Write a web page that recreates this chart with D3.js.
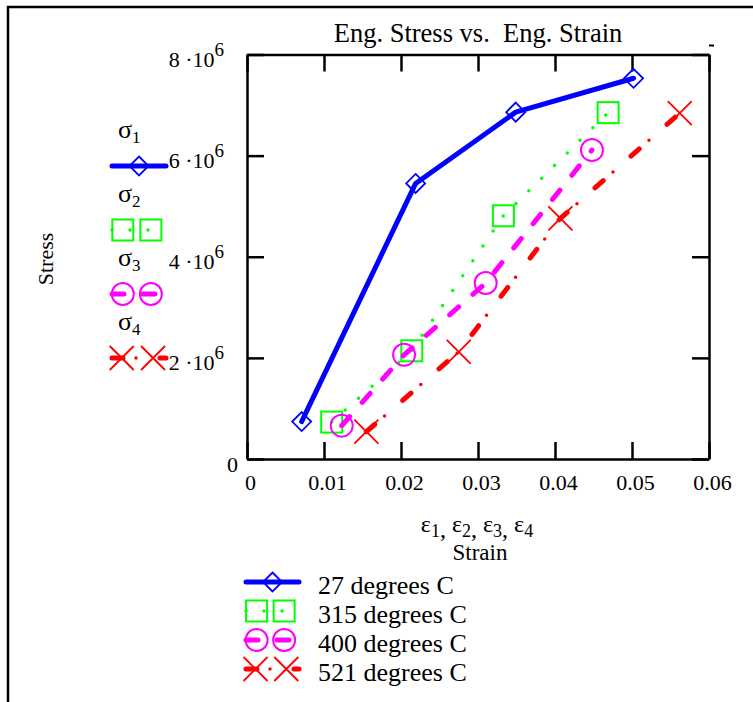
<!DOCTYPE html>
<html>
<head>
<meta charset="utf-8">
<script src="https://cdn.jsdelivr.net/npm/d3@7"></script>
<style>
  body { margin: 0; background: #fff; }
  svg text { font-family: "Liberation Serif", "Times New Roman", serif; fill: #000; }
</style>
</head>
<body>
<div id="chart"></div>
<script>
// values
const strain27 = [0.0071, 0.0219, 0.0349, 0.0502];
const stress27 = [0.74e6, 5.45e6, 6.86e6, 7.53e6];
const strain315 = [0.0110, 0.0214, 0.0333, 0.0469];
const stress315 = [0.73e6, 2.14e6, 4.81e6, 6.85e6];
const strain400 = [0.0123, 0.0204, 0.0310, 0.0448];
const stress400 = [0.66e6, 2.06e6, 3.48e6, 6.11e6];
const strain521 = [0.0155, 0.0275, 0.0407, 0.0562];
const stress521 = [0.54e6, 2.12e6, 4.76e6, 6.84e6];

const seriesNames = ["27 degrees C", "315 degrees C", "400 degrees C", "521 degrees C"];
const xTicks = [0, 0.01, 0.02, 0.03, 0.04, 0.05, 0.06];
const yTicks = [0, 2e6, 4e6, 6e6, 8e6];

const svgWidth = 753;
const svgHeight = 702;

const svg = d3.select("#chart")
  .append("svg")
  .attr("width", svgWidth)
  .attr("height", svgHeight);

svg.append("rect").attr("width", svgWidth).attr("height", svgHeight).attr("fill", "#fff");

// outer frame (top + left only)
svg.append("path")
  .attr("d", "M8,702 V7 H753")
  .attr("fill", "none")
  .attr("stroke", "#000")
  .attr("stroke-width", 2.5);

const x = d3.scaleLinear().domain([0, 0.06]).range([247, 709]);
const y = d3.scaleLinear().domain([0, 8e6]).range([459, 54.5]);

// line styles per series
const styles = [
  { color: "#0000ff", marker: "diamond", layers: [{ w: 5, dash: null }] },
  { color: "#00ff00", marker: "square", layers: [{ w: 3.5, dash: "0 18" }] },
  { color: "#ff00ff", marker: "circle", layers: [{ w: 5, dash: "12 19" }] },
  { color: "#ff0000", marker: "cross", layers: [{ w: 5, dash: "11 37" }, { w: 3.5, dash: "0 48", offset: -24 }] }
];

const series = [
  d3.zip(strain27, stress27),
  d3.zip(strain315, stress315),
  d3.zip(strain400, stress400),
  d3.zip(strain521, stress521)
];

function drawMarker(g, type, cx, cy, color) {
  if (type === "diamond") {
    const h = 9.5;
    g.append("path")
      .attr("d", `M${cx},${cy - h} L${cx + h},${cy} L${cx},${cy + h} L${cx - h},${cy} Z`)
      .attr("fill", "none").attr("stroke", color).attr("stroke-width", 1.8);
  } else if (type === "square") {
    const h = 10.5;
    g.append("rect")
      .attr("x", cx - h).attr("y", cy - h).attr("width", 2 * h).attr("height", 2 * h)
      .attr("fill", "none").attr("stroke", color).attr("stroke-width", 2);
  } else if (type === "circle") {
    g.append("circle")
      .attr("cx", cx).attr("cy", cy).attr("r", 11)
      .attr("fill", "none").attr("stroke", color).attr("stroke-width", 2);
  } else {
    const h = 12;
    g.append("path")
      .attr("d", `M${cx - h},${cy - h} L${cx + h},${cy + h} M${cx - h},${cy + h} L${cx + h},${cy - h}`)
      .attr("fill", "none").attr("stroke", color).attr("stroke-width", 1.8);
  }
}

function drawStroke(g, d, st) {
  st.layers.forEach(l => {
    const p = g.append("path")
      .attr("d", d)
      .attr("fill", "none")
      .attr("stroke", st.color)
      .attr("stroke-width", l.w)
      .attr("stroke-linecap", "round")
      .attr("stroke-linejoin", "round");
    if (l.dash) p.attr("stroke-dasharray", l.dash);
    if (l.offset) p.attr("stroke-dashoffset", l.offset);
  });
}

// axes
const axisG = svg.append("g");

const bottomAxis = d3.axisBottom(x).tickValues(xTicks).tickSizeInner(-17).tickSizeOuter(0)
  .tickPadding(15).tickFormat(d3.format(".2~f"));
const topAxis = d3.axisTop(x).tickValues(xTicks).tickSizeInner(-17).tickSizeOuter(0).tickFormat("");
const leftAxis = d3.axisLeft(y).tickValues(yTicks).tickSizeInner(-17).tickSizeOuter(0).tickFormat("");
const rightAxis = d3.axisRight(y).tickValues(yTicks).tickSizeInner(-17).tickSizeOuter(0).tickFormat("");

const xAxisG = axisG.append("g").attr("transform", `translate(0, ${y(0)})`).call(bottomAxis);
axisG.append("g").attr("transform", `translate(0, ${y(8e6)})`).call(topAxis);
const yAxisG = axisG.append("g").attr("transform", `translate(${x(0)}, 0)`).call(leftAxis);
axisG.append("g").attr("transform", `translate(${x(0.06)}, 0)`).call(rightAxis);

axisG.selectAll(".domain").attr("stroke", "#000").attr("stroke-width", 2.5);
axisG.selectAll(".tick line").attr("stroke", "#000").attr("stroke-width", 2.5);

xAxisG.selectAll(".tick text")
  .attr("font-family", null)
  .attr("font-size", 22)
  .attr("dx", 3);

// y tick labels as "k ·10^6"
yAxisG.selectAll(".tick").each(function(d) {
  const t = d3.select(this).append("text")
    .attr("text-anchor", "end")
    .attr("font-size", 22)
    .attr("y", 12);
  if (d === 0) {
    t.attr("x", -9).text("0");
  } else {
    t.attr("x", -23);
    t.append("tspan").text(`${d / 1e6} \u00B710`);
    t.append("tspan").attr("font-size", 19).attr("dy", -11).text("6");
  }
});

// data
const line = d3.line().x(d => x(d[0])).y(d => y(d[1]));
const plotG = svg.append("g");
series.forEach((s, i) => {
  drawStroke(plotG, line(s), styles[i]);
  s.forEach(p => drawMarker(plotG, styles[i].marker, x(p[0]), y(p[1]), styles[i].color));
});

// title and axis labels
svg.append("text")
  .attr("x", 478).attr("y", 42)
  .attr("text-anchor", "middle")
  .attr("font-size", 26.5)
  .style("white-space", "pre")
  .text("Eng. Stress vs.  Eng. Strain");

svg.append("text")
  .attr("transform", "translate(53, 259) rotate(-90)")
  .attr("text-anchor", "middle")
  .attr("font-size", 22)
  .text("Stress");

const epsLabel = svg.append("text")
  .attr("x", 477).attr("y", 532)
  .attr("text-anchor", "middle")
  .attr("font-size", 24);
[1, 2, 3, 4].forEach((n, i) => {
  epsLabel.append("tspan").attr("dy", i === 0 ? 0 : -5).text("\u03B5");
  epsLabel.append("tspan").attr("font-size", 18).attr("dy", 5).text(n);
  if (i < 3) epsLabel.append("tspan").attr("dy", 0).text(", ");
});

svg.append("text")
  .attr("x", 480).attr("y", 560)
  .attr("text-anchor", "middle")
  .attr("font-size", 23)
  .text("Strain");

// small mark at the top right corner
svg.append("line")
  .attr("x1", 709).attr("x2", 714).attr("y1", 45.5).attr("y2", 45.5)
  .attr("stroke", "#000").attr("stroke-width", 2);

// legend samples
function drawSample(g, i, x0, x1, cy, marks) {
  const st = styles[i];
  drawStroke(g, `M${x0},${cy} L${x1},${cy}`, st);
  marks.forEach(mx => drawMarker(g, st.marker, mx, cy, st.color));
}

const sampleMarks = [[0.5], [0.2, 0.72], [0.2, 0.72], [0.18, 0.76]];

// left legend (sigma labels)
const leftLeg = svg.append("g");
[0, 1, 2, 3].forEach(i => {
  const base = 138 + i * 64;
  const t = leftLeg.append("text").attr("x", 118).attr("y", base).attr("font-size", 26);
  t.append("tspan").text("\u03C3");
  t.append("tspan").attr("font-size", 17).attr("dy", 5).text(i + 1);
  const x0 = 112, x1 = 166;
  drawSample(leftLeg, i, x0, x1, base + 28, sampleMarks[i].map(f => x0 + f * (x1 - x0)));
});

// bottom legend
const botLeg = svg.append("g");
seriesNames.forEach((name, i) => {
  const base = 594 + i * 29;
  botLeg.append("text").attr("x", 318).attr("y", base).attr("font-size", 26).text(name);
  const x0 = 246, x1 = 299;
  drawSample(botLeg, i, x0, x1, base - 12, sampleMarks[i].map(f => x0 + f * (x1 - x0)));
});
</script>
</body>
</html>
